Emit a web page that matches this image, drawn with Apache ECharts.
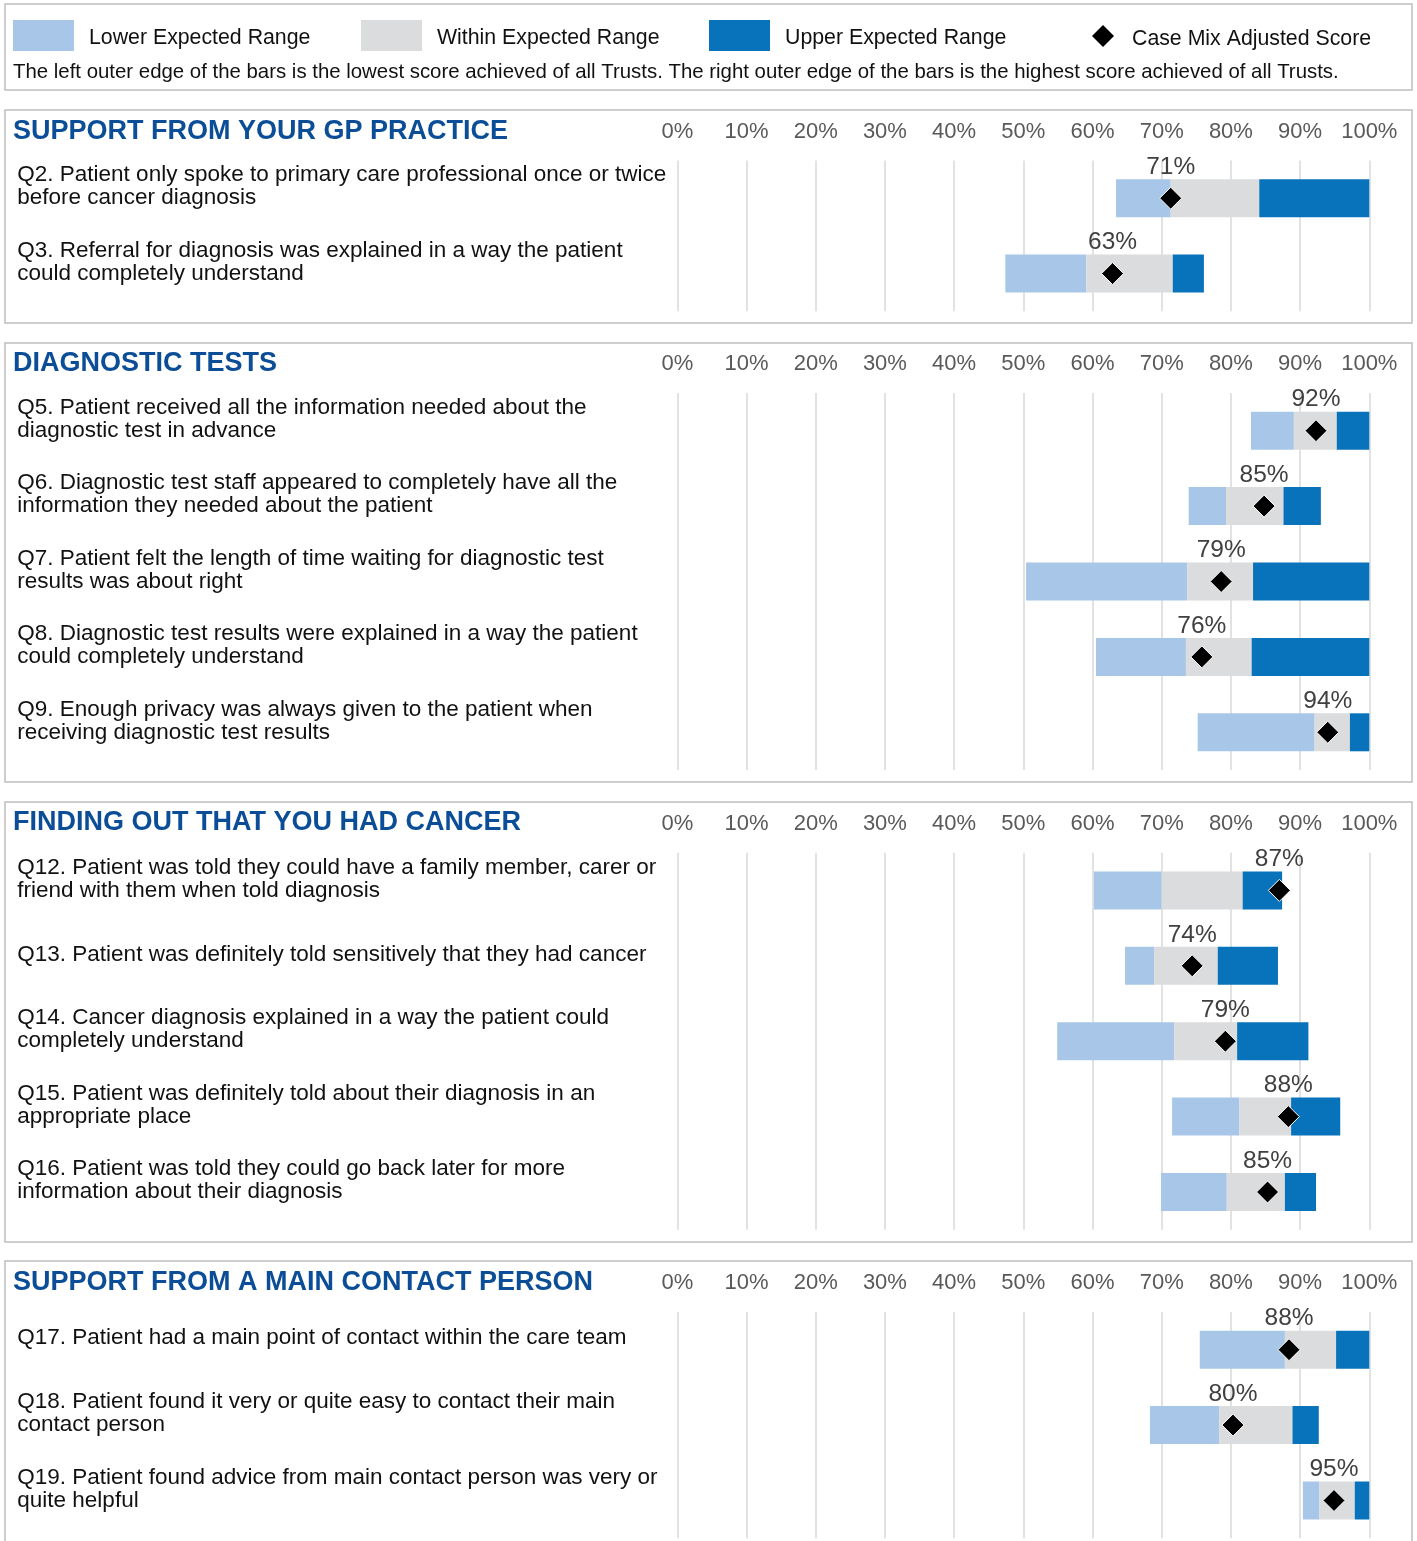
<!DOCTYPE html>
<html>
<head>
<meta charset="utf-8">
<script src="https://cdn.jsdelivr.net/npm/echarts@6/dist/echarts.min.js"></script>
<style>
html,body{margin:0;padding:0;background:#fff;}
#chart{width:1417px;height:1541px;}
</style>
</head>
<body>
<div id="chart"></div>
<script>
// ---------- DATA ----------
const sectionTitles = [
  'SUPPORT FROM YOUR GP PRACTICE',
  'DIAGNOSTIC TESTS',
  'FINDING OUT THAT YOU HAD CANCER',
  'SUPPORT FROM A MAIN CONTACT PERSON'
];
const questions = [
  'Q2. Patient only spoke to primary care professional once or twice\nbefore cancer diagnosis',
  'Q3. Referral for diagnosis was explained in a way the patient\ncould completely understand',
  'Q5. Patient received all the information needed about the\ndiagnostic test in advance',
  'Q6. Diagnostic test staff appeared to completely have all the\ninformation they needed about the patient',
  'Q7. Patient felt the length of time waiting for diagnostic test\nresults was about right',
  'Q8. Diagnostic test results were explained in a way the patient\ncould completely understand',
  'Q9. Enough privacy was always given to the patient when\nreceiving diagnostic test results',
  'Q12. Patient was told they could have a family member, carer or\nfriend with them when told diagnosis',
  'Q13. Patient was definitely told sensitively that they had cancer',
  'Q14. Cancer diagnosis explained in a way the patient could\ncompletely understand',
  'Q15. Patient was definitely told about their diagnosis in an\nappropriate place',
  'Q16. Patient was told they could go back later for more\ninformation about their diagnosis',
  'Q17. Patient had a main point of contact within the care team',
  'Q18. Patient found it very or quite easy to contact their main\ncontact person',
  'Q19. Patient found advice from main contact person was very or\nquite helpful'
];
const sectionOf    = [0, 0, 1, 1, 1, 1, 1, 2, 2, 2, 2, 2, 3, 3, 3];
const minScore     = [63.4, 47.4, 82.9, 73.9, 50.4, 60.5, 75.2, 60.2, 64.7, 54.9, 71.5, 69.9, 75.5, 68.3, 90.4];
const lowerEnd     = [71.3, 59.1, 89.1, 79.3, 73.7, 73.5, 92.1, 70.0, 68.9, 71.8, 81.2, 79.4, 87.8, 78.3, 92.8];
const upperStart   = [84.1, 71.6, 95.3, 87.6, 83.2, 83.0, 97.2, 81.7, 78.1, 80.9, 88.7, 87.8, 95.2, 88.9, 97.9];
const maxScore     = [100, 76.1, 100, 93.0, 100, 100, 100, 87.4, 86.8, 91.2, 95.8, 92.3, 100, 92.7, 100];
const caseMixScore = [71.3, 62.9, 92.3, 84.8, 78.6, 75.8, 94.0, 87.0, 74.4, 79.2, 88.3, 85.3, 88.4, 80.3, 94.9];
const legendNames  = ['Lower Expected Range', 'Within Expected Range', 'Upper Expected Range', 'Case Mix Adjusted Score'];
const footnote = 'The left outer edge of the bars is the lowest score achieved of all Trusts. The right outer edge of the bars is the highest score achieved of all Trusts.';
const xTickValues = [0, 100, 10]; // min, max, interval

// ---------- STYLE / LAYOUT ----------
const FONT = 'Liberation Sans, Arial, sans-serif';
const COL_LOW = '#A8C7E8', COL_MID = '#DBDCDE', COL_HIGH = '#0873BB', COL_TITLE = '#0B4D97';
const rowH = 75.4;
const panelBoxes = [[110, 323], [343, 782], [802, 1242], [1261, 1600]];
const gridTops = [160.5, 393, 852.7, 1312];
const titleCenters = [130, 362, 821, 1281];

const chart = echarts.init(document.getElementById('chart'));

const grids = [], xAxes = [], yAxes = [], series = [], titles = [];
sectionTitles.forEach((t, g) => {
  const idx = questions.map((q, i) => i).filter(i => sectionOf[i] === g);
  const cats = idx.map(i => questions[i]);
  grids.push({left: 677.3, width: 692, top: gridTops[g], height: idx.length * rowH, containLabel: false});
  xAxes.push({
    type: 'value', gridIndex: g, position: 'top', min: xTickValues[0], max: xTickValues[1], interval: xTickValues[2],
    axisLine: {show: false}, axisTick: {show: false},
    axisLabel: {formatter: '{value}%', color: '#595959', fontSize: 22, fontFamily: FONT, margin: 18},
    splitLine: {show: true, lineStyle: {color: '#D9D9D9', width: 1.5}}
  });
  yAxes.push({
    type: 'category', gridIndex: g, inverse: true, data: cats,
    axisLine: {show: false}, axisTick: {show: false}, splitLine: {show: false},
    axisLabel: {
      align: 'left', margin: 660, color: '#111', fontSize: 22.5, lineHeight: 23,
      fontFamily: FONT, verticalAlign: 'middle',
      formatter: v => v + '\n '
    }
  });
  const stack = 's' + g;
  series.push({type: 'bar', xAxisIndex: g, yAxisIndex: g, stack, barWidth: 38, silent: true,
    itemStyle: {color: 'rgba(0,0,0,0)'}, data: idx.map(i => minScore[i])});
  series.push({type: 'bar', name: legendNames[0], xAxisIndex: g, yAxisIndex: g, stack, barWidth: 38,
    itemStyle: {color: COL_LOW}, data: idx.map(i => +(lowerEnd[i] - minScore[i]).toFixed(2))});
  series.push({type: 'bar', name: legendNames[1], xAxisIndex: g, yAxisIndex: g, stack, barWidth: 38,
    itemStyle: {color: COL_MID}, data: idx.map(i => +(upperStart[i] - lowerEnd[i]).toFixed(2))});
  series.push({type: 'bar', name: legendNames[2], xAxisIndex: g, yAxisIndex: g, stack, barWidth: 38,
    itemStyle: {color: COL_HIGH}, data: idx.map(i => +(maxScore[i] - upperStart[i]).toFixed(2))});
  series.push({type: 'scatter', name: legendNames[3], xAxisIndex: g, yAxisIndex: g, z: 5,
    symbol: 'diamond', symbolSize: 22,
    itemStyle: {color: '#000', borderColor: '#fff', borderWidth: 1, opacity: 1},
    label: {show: true, position: 'top', distance: 7, color: '#404040', fontSize: 24.5,
      fontFamily: FONT, formatter: p => Math.round(p.value[0]) + '%'},
    data: idx.map(i => [caseMixScore[i], questions[i]])});
  titles.push({text: t, left: 13, top: titleCenters[g] - 12, padding: 0,
    textStyle: {color: COL_TITLE, fontSize: 27, fontWeight: 'bold', fontFamily: FONT}});
});
titles.push({text: footnote, left: 13, top: 62, padding: 0,
  textStyle: {color: '#111', fontSize: 20.4, fontWeight: 'normal', fontFamily: FONT}});

const legendLefts = [13, 361, 709, 1092];
const legends = legendNames.map((n, k) => ({
  data: [k === 3 ? {name: n, icon: 'diamond'} : {name: n, icon: 'rect'}],
  left: legendLefts[k], top: k === 3 ? 25 : 20, padding: 0,
  itemWidth: k === 3 ? 22 : 61, itemHeight: k === 3 ? 22 : 31, itemGap: 0,
  selectedMode: false,
  itemStyle: k === 3 ? {color: '#000', borderWidth: 0} : {borderWidth: 0},
  formatter: name => '{t|' + name + '}',
  textStyle: {
    fontSize: 21.3, color: '#111', fontFamily: FONT,
    rich: {t: {fontSize: 21.3, color: '#111', fontFamily: FONT, padding: [6, 0, 0, k === 3 ? 13 : 10]}}
  }
}));

const boxes = [{type: 'rect', shape: {x: 5, y: 4, width: 1407, height: 86},
  style: {fill: 'none', stroke: '#BFBFBF', lineWidth: 1.5}, silent: true}];
panelBoxes.forEach(b => boxes.push({type: 'rect', shape: {x: 5, y: b[0], width: 1407, height: b[1] - b[0]},
  style: {fill: 'none', stroke: '#BFBFBF', lineWidth: 1.5}, silent: true, z: -1}));

chart.setOption({
  animation: false,
  backgroundColor: '#fff',
  title: titles,
  legend: legends,
  grid: grids,
  xAxis: xAxes,
  yAxis: yAxes,
  series: series,
  graphic: boxes
});
</script>
</body>
</html>
